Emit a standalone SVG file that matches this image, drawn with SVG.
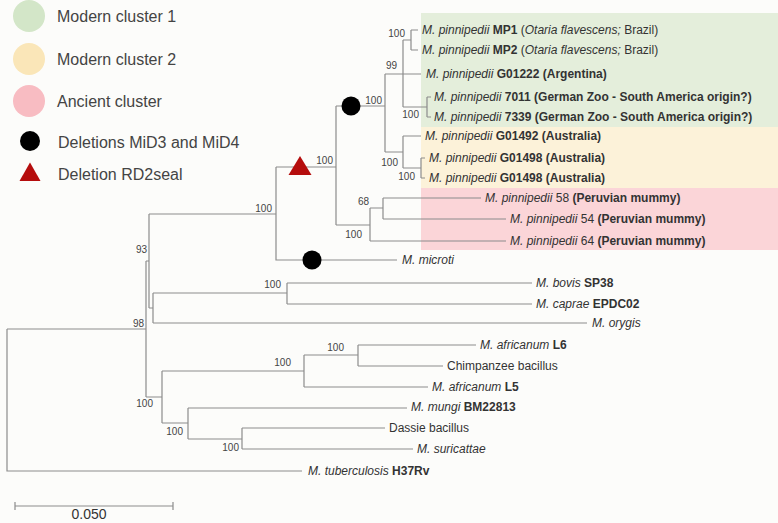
<svg xmlns="http://www.w3.org/2000/svg" width="778" height="523" viewBox="0 0 778 523">
<style>
.tree{fill:none;stroke:#8c8c8c;stroke-width:1.2}
.lf{font-family:"Liberation Sans",Arial,sans-serif;font-size:12px;fill:#333}
.bs{font-family:"Liberation Sans",Arial,sans-serif;font-size:10px;fill:#444;text-anchor:end}
.lg{font-family:"Liberation Sans",Arial,sans-serif;font-size:16px;fill:#444}
.i{font-style:italic}
.b{font-weight:bold}
.del{fill:#000}
.rd{fill:#b50d0d}
</style>
<rect width="778" height="523" fill="#fcfcfa"/>
<g id="bands">
<rect x="421" y="13" width="357" height="114" fill="#e4eedb"/>
<rect x="421" y="127" width="357" height="61" fill="#fcf2d9"/>
<rect x="421" y="188" width="357" height="62" fill="#fbd5d8"/>
</g>
<g id="legend">
<g id="lg-mc1"><circle cx="29" cy="16" r="16" fill="#d3e6c8"/><text class="lg" x="57" y="21.7">Modern cluster 1</text></g>
<g id="lg-mc2"><circle cx="29" cy="59" r="16" fill="#fae6b8"/><text class="lg" x="57" y="64.7">Modern cluster 2</text></g>
<g id="lg-anc"><circle cx="29" cy="101" r="16" fill="#f8bcc2"/><text class="lg" x="57" y="106.7">Ancient cluster</text></g>
<g id="lg-mid"><circle class="del" cx="30" cy="141" r="10"/><text class="lg" x="58" y="148">Deletions MiD3 and MiD4</text></g>
<g id="lg-rd2"><polygon class="rd" points="30,162.5 19.5,181 40.5,181"/><text class="lg" x="58" y="180">Deletion RD2seal</text></g>
</g>
<g id="connectors" class="tree">
<path d="M7,329 H146 M7,329 V471 H302"/>
<path d="M146,261 V397 M146,261 H149"/>
<path d="M149,214 V308 M149,214 H276 M149,308 H153"/>
<path d="M153,293 V323 M153,293 H287 M287,283 V304 M287,283 H532 M287,304 H532 M153,323 H587"/>
<path d="M276,167 V260 H397 M276,167 H336"/>
<path d="M336,106 V225 M336,106 H385"/>
<path d="M385,74 V152 M385,74 H421"/>
<path d="M403,40 V107 M403,40 H411 M411,30 V50 M411,30 H418 M411,50 H418"/>
<path d="M403,107 H427 M427,97 V117 M427,97 H431 M427,117 H431"/>
<path d="M385,152 H403 M403,136 V168 M403,136 H421 M403,168 H421 M421,158 V178 M421,158 H425 M421,178 H425"/>
<path d="M336,225 H370 M370,208 V241 M370,208 H383 M383,198 V219 M383,198 H481 M383,219 H506 M370,241 H506"/>
<path d="M146,397 H162 M162,371 V423 M162,371 H304 M304,355 V387 M304,355 H358 M358,345 V366 M358,345 H476 M358,366 H443 M304,387 H428"/>
<path d="M162,423 H188 M188,408 V439 M188,408 H407 M188,439 H242 M242,428 V449 M242,428 H385 M242,449 H413"/>
</g>
<g id="events">
<circle id="mid-pinn" class="del" cx="351" cy="106" r="9.5"/>
<circle id="mid-microti" class="del" cx="312" cy="260" r="9.5"/>
<polygon id="rd2seal" class="rd" points="300,156 288.5,175 311.5,175"/>
</g>
<g id="bootstrap">
<text class="bs" x="405" y="37">100</text>
<text class="bs" x="397" y="68.5">99</text>
<text class="bs" x="382" y="103.5">100</text>
<text class="bs" x="419" y="118">100</text>
<text class="bs" x="398" y="166">100</text>
<text class="bs" x="415" y="180">100</text>
<text class="bs" x="369" y="205">68</text>
<text class="bs" x="362" y="238">100</text>
<text class="bs" x="333" y="163.5">100</text>
<text class="bs" x="272" y="211.5">100</text>
<text class="bs" x="147" y="252.5">93</text>
<text class="bs" x="144" y="326.5">98</text>
<text class="bs" x="281" y="287.5">100</text>
<text class="bs" x="291" y="366">100</text>
<text class="bs" x="344" y="350.5">100</text>
<text class="bs" x="153" y="406.5">100</text>
<text class="bs" x="183" y="435">100</text>
<text class="bs" x="239" y="451">100</text>
</g>
<g id="leaves">
<g id="MP1"><text class="lf" x="422" y="34"><tspan class="i">M. pinnipedii</tspan> <tspan class="b">MP1</tspan> (<tspan class="i">Otaria flavescens;</tspan> Brazil)</text></g>
<g id="MP2"><text class="lf" x="422" y="54"><tspan class="i">M. pinnipedii</tspan> <tspan class="b">MP2</tspan> (<tspan class="i">Otaria flavescens;</tspan> Brazil)</text></g>
<g id="G01222"><text class="lf" x="426" y="78"><tspan class="i">M. pinnipedii</tspan> <tspan class="b">G01222 (Argentina)</tspan></text></g>
<g id="n7011"><text class="lf" x="434" y="101"><tspan class="i">M. pinnipedii</tspan> <tspan class="b">7011 (German Zoo - South America origin?)</tspan></text></g>
<g id="n7339"><text class="lf" x="434" y="121"><tspan class="i">M. pinnipedii</tspan> <tspan class="b">7339 (German Zoo - South America origin?)</tspan></text></g>
<g id="G01492"><text class="lf" x="425" y="140"><tspan class="i">M. pinnipedii</tspan> <tspan class="b">G01492 (Australia)</tspan></text></g>
<g id="G01498a"><text class="lf" x="429" y="162"><tspan class="i">M. pinnipedii</tspan> <tspan class="b">G01498 (Australia)</tspan></text></g>
<g id="G01498b"><text class="lf" x="429" y="182"><tspan class="i">M. pinnipedii</tspan> <tspan class="b">G01498 (Australia)</tspan></text></g>
<g id="n58"><text class="lf" x="485" y="202"><tspan class="i">M. pinnipedii</tspan> 58 <tspan class="b">(Peruvian mummy)</tspan></text></g>
<g id="n54"><text class="lf" x="510" y="223"><tspan class="i">M. pinnipedii</tspan> 54 <tspan class="b">(Peruvian mummy)</tspan></text></g>
<g id="n64"><text class="lf" x="510" y="245"><tspan class="i">M. pinnipedii</tspan> 64 <tspan class="b">(Peruvian mummy)</tspan></text></g>
<g id="microti"><text class="lf i" x="402" y="264">M. microti</text></g>
<g id="bovis"><text class="lf" x="536" y="287"><tspan class="i">M. bovis</tspan> <tspan class="b">SP38</tspan></text></g>
<g id="caprae"><text class="lf" x="536" y="308"><tspan class="i">M. caprae</tspan> <tspan class="b">EPDC02</tspan></text></g>
<g id="orygis"><text class="lf i" x="592" y="327">M. orygis</text></g>
<g id="L6"><text class="lf" x="480" y="349"><tspan class="i">M. africanum</tspan> <tspan class="b">L6</tspan></text></g>
<g id="chimp"><text class="lf" x="447" y="370">Chimpanzee bacillus</text></g>
<g id="L5"><text class="lf" x="432" y="391"><tspan class="i">M. africanum</tspan> <tspan class="b">L5</tspan></text></g>
<g id="mungi"><text class="lf" x="411" y="411"><tspan class="i">M. mungi</tspan> <tspan class="b">BM22813</tspan></text></g>
<g id="dassie"><text class="lf" x="389" y="432">Dassie bacillus</text></g>
<g id="suricattae"><text class="lf i" x="417" y="453">M. suricattae</text></g>
<g id="H37Rv"><text class="lf" x="308" y="475"><tspan class="i">M. tuberculosis</tspan> <tspan class="b">H37Rv</tspan></text></g>
</g>
<g id="scale">
<path class="tree" d="M15,506 H173 M15,502 V510 M173,502 V510"/>
<text x="89" y="519" font-family="Liberation Sans, Arial, sans-serif" font-size="14" fill="#333" text-anchor="middle">0.050</text>
</g>
</svg>
